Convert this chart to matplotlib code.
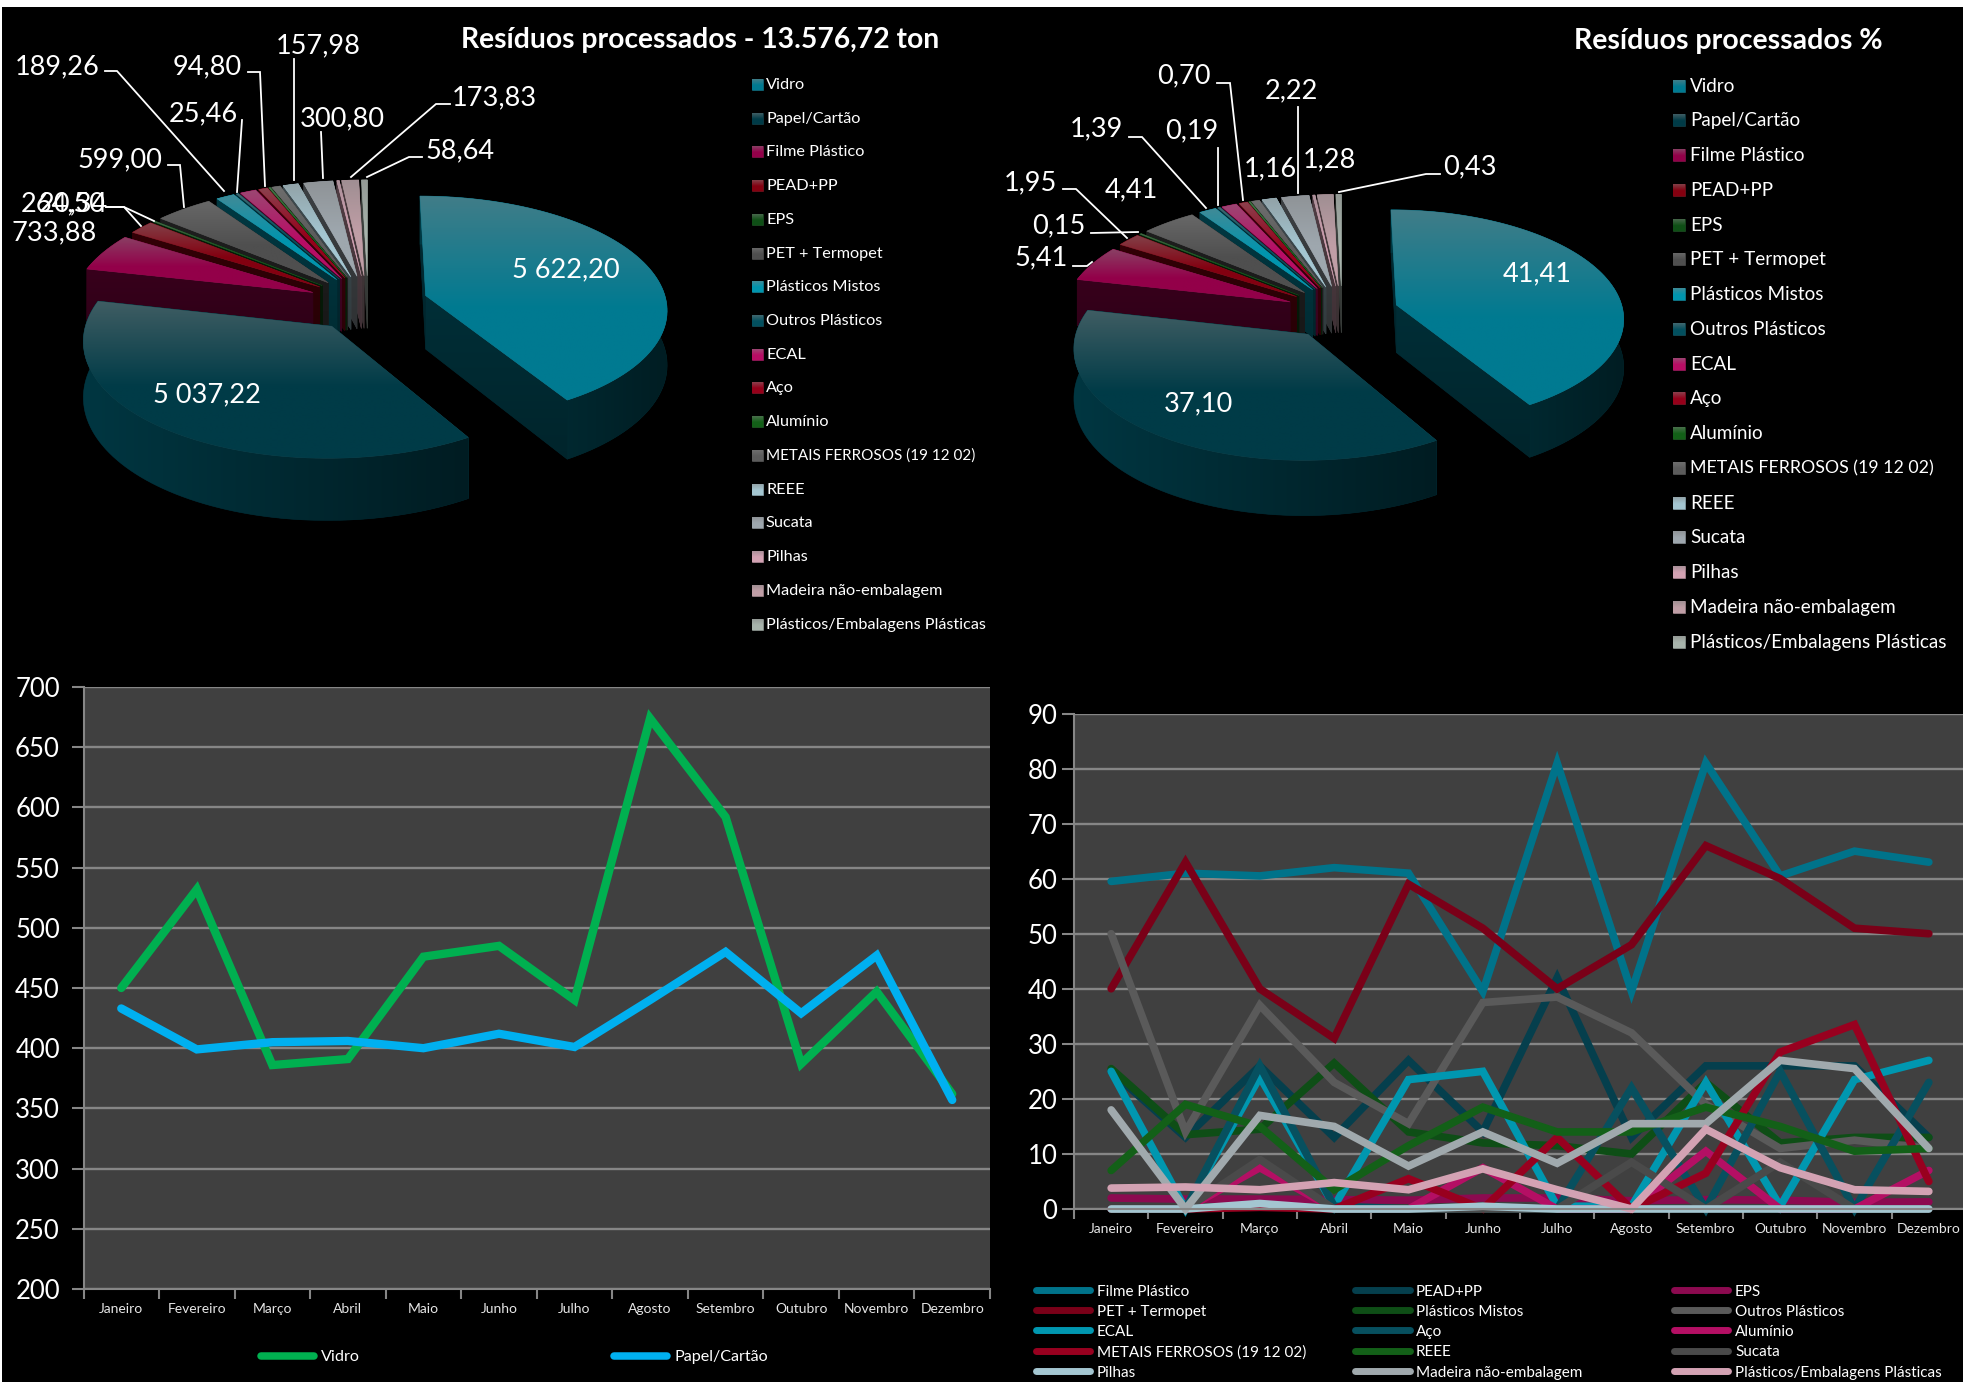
import numpy as np
import matplotlib
matplotlib.use("Agg")
import matplotlib.pyplot as plt
from matplotlib.patches import Polygon, Rectangle
from matplotlib.colors import to_rgb

plt.rcParams['font.family'] = ['Lato', 'DejaVu Sans']

W, H = 1963, 1382

# ---------- data ----------
months = ["Janeiro", "Fevereiro", "Março", "Abril", "Maio", "Junho", "Julho",
          "Agosto", "Setembro", "Outubro", "Novembro", "Dezembro"]

categories = ["Vidro", "Papel/Cartão", "Filme Plástico", "PEAD+PP", "EPS", "PET + Termopet",
              "Plásticos Mistos", "Outros Plásticos", "ECAL", "Aço", "Alumínio",
              "METAIS FERROSOS (19 12 02)", "REEE", "Sucata", "Pilhas",
              "Madeira não-embalagem", "Plásticos/Embalagens Plásticas"]
pie_colors = ["#007a91", "#003b47", "#930049", "#840010", "#0f4f16", "#4f4f4f", "#0095ae",
              "#03505f", "#b80d65", "#96001a", "#136018", "#5c5c5c", "#a4c6d1", "#9ea7ae",
              "#d3a2b3", "#c09ea6", "#a8b4ac"]
side_gain = [1.0, 2.0, 1.0, 1.0, 1.0, 1.0, 1.0, 1.5, 1.0, 1.0, 1.0, 1.0, 1.0, 1.0, 1.0, 1.0, 1.0]

tons = [5622.20, 5037.22, 733.88, 264.50, 20.34, 599.00, 189.26, 25.46, 165.0, 94.80,
        18.0, 90.0, 157.98, 300.80, 25.0, 173.83, 58.64]
percent = [41.41, 37.10, 5.41, 1.95, 0.15, 4.41, 1.39, 0.19, 1.22, 0.70,
           0.13, 0.66, 1.16, 2.22, 0.18, 1.28, 0.43]

vidro = [450, 532, 386, 391, 476, 485, 440, 674, 592, 387, 447, 362]
papel = [433, 399, 405, 406, 400, 412, 401, 440, 480, 429, 477, 357]

filme = [59.5, 61, 60.5, 62, 61, 39.5, 81, 39.5, 81, 60.5, 65, 63]
pead = [25, 13, 26, 13, 27, 14, 42, 13, 26, 26, 26, 13]
eps = [2, 1.8, 1.8, 1.7, 1.6, 2, 2, 1.5, 1.7, 1.6, 1.2, 1.3]
pet = [40, 63, 40, 31, 59, 51, 40, 48, 66, 60, 51, 50]
mistos = [25.5, 13.5, 14.5, 26.5, 14, 12, 11.5, 10, 23, 12, 13, 13]
outros = [50, 14, 37, 23, 15.5, 37.5, 38.5, 32, 19, 11, 12.5, 11]
ecal = [25, 0, 24, 0.5, 23.5, 25, 0.5, 0.5, 23, 0.5, 23.5, 27]
aco = [0, 0, 26, 0.5, 0, 0, 0, 22, 0, 25, 0, 23]
aluminio = [0, 0, 7.5, 0, 0, 7.5, 0, 0, 10.5, 0, 0, 7]
metais = [0, 0, 0.3, 0, 5.5, 0, 13, 0, 6.5, 28.5, 33.5, 5]
reee = [7, 19, 15, 3.5, 11.5, 18.5, 14, 14, 18.5, 15, 10.5, 11]
sucata = [0, 0, 9, 0, 0, 0, 0, 8.5, 0, 8.5, 0, 0]
pilhas = [0, 0, 1, 0, 0, 0.5, 0, 0, 0, 0, 0, 0]
madeira = [18, 0, 17, 15, 7.8, 14, 8.3, 15.5, 15.5, 27, 25.5, 11]
plasticos = [3.8, 4, 3.5, 4.8, 3.5, 7.3, 3.5, 0, 14.5, 7.5, 3.5, 3.2]

line_names = categories[2:]
line_values = [filme, pead, eps, pet, mistos, outros, ecal, aco, aluminio, metais,
               reee, sucata, pilhas, madeira, plasticos]
line_colors = ["#00738a", "#053f4d", "#8c0a50", "#7a0018", "#0e4e16", "#5a5a5a", "#0097b0",
               "#07505f", "#b40f64", "#98001f", "#136018", "#4a4a4a", "#a4c6d1", "#a0a9ad",
               "#d3a2b3"]

# labels: text, centre, leader polyline
labels_1 = [("5 622,20", 566, 270, []), ("5 037,22", 207, 395, []),
    ("189,26", 57, 67, [(105, 71), (117, 71), (224, 191)]),
    ("94,80", 207, 67, [(248, 72), (260, 72), (265, 186)]),
    ("157,98", 318, 46, [(294, 59), (294, 180)]),
    ("25,46", 203, 114, [(242, 120), (237, 192)]),
    ("300,80", 342, 119, [(321, 132), (323, 178)]),
    ("173,83", 494, 98, [(450, 104), (436, 104), (351, 177)]),
    ("58,64", 460, 151, [(422, 157), (409, 157), (367, 177)]),
    ("599,00", 120, 160, [(168, 165), (180, 165), (184, 207)]),
    ("264,50", 63, 204, [(106, 207), (124, 207), (141, 226)]),
    ("20,34", 73, 204, [(106, 207), (124, 207), (154, 221)]),
    ("733,88", 54, 233, [])]
labels_2 = [("41,41", 1537, 274, []), ("37,10", 1198, 404, []),
    ("0,70", 1184, 76, [(1217, 83), (1230, 83), (1243, 200)]),
    ("2,22", 1291, 91, [(1298, 107), (1298, 193)]),
    ("1,39", 1096, 129, [(1129, 137), (1142, 137), (1206, 208)]),
    ("0,19", 1192, 131, [(1218, 148), (1218, 205)]),
    ("1,16", 1270, 169, []), ("1,28", 1329, 160, []),
    ("0,43", 1470, 167, [(1440, 174), (1426, 174), (1339, 192)]),
    ("1,95", 1030, 183, [(1063, 189), (1076, 189), (1127, 238)]),
    ("4,41", 1131, 190, []),
    ("0,15", 1059, 226, [(1091, 233), (1138, 232)]),
    ("5,41", 1041, 258, [(1073, 266), (1087, 266), (1092, 262)])]

# ---------- figure ----------
fig = plt.figure(figsize=(W / 100, H / 100), dpi=100, facecolor="black")
ov = fig.add_axes([0, 0, 1, 1], zorder=5)
ov.set_xlim(0, W)
ov.set_ylim(H, 0)
ov.axis("off")
ov.patch.set_alpha(0)
ov.set_autoscale_on(False)
ov.add_patch(Rectangle((0, 0), W, 7, fc="white", ec="none"))
ov.add_patch(Rectangle((0, 0), 1.5, H, fc="white", ec="none"))

zc = [10]


def next_z():
    zc[0] += 1
    return zc[0]


def shaded(pts, base, mode, gain=1.0):
    """Polygon filled with a gradient derived from one base colour."""
    pts = np.asarray(pts)
    z = next_z()
    base = np.array(to_rgb(base))
    x0, x1 = pts[:, 0].min(), pts[:, 0].max()
    y0, y1 = pts[:, 1].min(), pts[:, 1].max()
    n = 64
    t = np.linspace(0, 1, n)
    if mode == "top":
        w = 0.5 * np.clip(1 - t / 0.55, 0, 1)
        rows = base[None, :] * (1 - w[:, None]) + 0.5 * w[:, None]
        img = rows[:, None, :]
    elif mode == "rim":
        f = (0.46 - 0.22 * t) * gain
        img = (base[None, :] * f[:, None])[None, :, :]
    else:
        f = (0.38 - 0.08 * t) * gain
        img = (base[None, :] * f[:, None])[:, None, :]
    img = np.clip(img, 0, 1)
    mean = img.reshape(-1, 3).mean(axis=0)
    poly = Polygon(pts, closed=True, fc=mean, ec=mean, lw=0.4, zorder=z)
    ov.add_patch(poly)
    im = ov.imshow(img, extent=(x0, x1, y1, y0), aspect="auto", zorder=z,
                   interpolation="bilinear")
    im.set_clip_path(poly)


def pie3d(values, cx, cy, rx, ry, depth, persp=0.11, explode=0.25):
    vals = np.array(values, float)
    edges = np.concatenate([[0], np.cumsum(vals)]) / vals.sum() * 2 * np.pi
    slices = []
    for i in range(len(vals)):
        a0, a1 = edges[i], edges[i + 1]
        mid = (a0 + a1) / 2
        slices.append((np.cos(mid), i, a0, a1, mid))

    def proj(gx, gy, lower=False):
        p = 1 + persp * gy
        return (cx + rx * gx / p, cy - ry * gy / p + (depth / p if lower else 0))

    for cm, i, a0, a1, mid in sorted(slices, key=lambda s: -s[0]):
        ox, oy = explode * np.sin(mid), explode * np.cos(mid)
        n = max(3, int((a1 - a0) / 0.03))
        ang = np.linspace(a0, a1, n)
        gx = ox + np.sin(ang)
        gy = oy + np.cos(ang)
        top = [proj(ox, oy)] + [proj(a, b) for a, b in zip(gx, gy)]
        rim = [proj(a, b) for a, b in zip(gx, gy)] + \
              [proj(a, b, True) for a, b in zip(gx[::-1], gy[::-1])]
        cut0 = [proj(ox, oy), proj(gx[0], gy[0]), proj(gx[0], gy[0], True), proj(ox, oy, True)]
        cut1 = [proj(ox, oy), proj(gx[-1], gy[-1]), proj(gx[-1], gy[-1], True), proj(ox, oy, True)]
        faces = [(oy + np.cos(a0) / 2, cut0, "cut"), (oy + np.cos(a1) / 2, cut1, "cut"),
                 (oy + np.cos(mid) * 0.9, rim, "rim")]
        for _, pts, mode in sorted(faces, key=lambda f: -f[0]):
            shaded(pts, pie_colors[i], mode, side_gain[i])
        shaded(top, pie_colors[i], "top")


def draw_labels(items, size):
    for txt, x, y, leader in items:
        ov.text(x, y, txt, color="white", fontsize=size, ha="center", va="center", zorder=2000)
        if leader:
            ov.plot([p[0] for p in leader], [p[1] for p in leader], color="white",
                    lw=1.3, zorder=1999, solid_joinstyle="miter")


def pie_legend(xm, xt, y0, dy, msize, fsize):
    for i, name in enumerate(categories):
        y = y0 + i * dy
        shaded([(xm, y - msize / 2), (xm + msize, y - msize / 2),
                (xm + msize, y + msize / 2), (xm, y + msize / 2)], pie_colors[i], "top")
        fs = fsize * 0.94 if name.isupper() and len(name) > 10 else fsize
        ov.text(xt, y + 0.5, name, color="white", fontsize=fs, ha="left", va="center", zorder=2000)


pie3d(tons, 368, 303, 241, 112, 54)
draw_labels(labels_1, 19.5)
pie_legend(752, 766, 84.5, 33.72, 11, 11.7)
ov.text(700, 40, "Resíduos processados - 13.576,72 ton", color="white", fontsize=20.3,
        fontweight="bold", ha="center", va="center", zorder=2000)

pie3d(percent, 1342, 312, 227, 107, 48)
draw_labels(labels_2, 19.5)
pie_legend(1673, 1690, 85.6, 34.76, 12, 13.6)
ov.text(1728, 41, "Resíduos processados %", color="white", fontsize=20.5,
        fontweight="bold", ha="center", va="center", zorder=2000)


# ---------- line charts ----------
def line_axes(left, top, right, bottom, ymin, ymax, step, ypad, xpad):
    ax = fig.add_axes([left / W, 1 - bottom / H, (right - left) / W, (bottom - top) / H],
                      zorder=3)
    ax.set_facecolor("#404040")
    ax.set_xlim(0, 12)
    ax.set_ylim(ymin, ymax)
    ax.set_yticks(np.arange(ymin, ymax + 1, step))
    ax.set_xticks(np.arange(0, 13))
    ax.set_xticklabels([])
    ax.set_xticks(np.arange(0.5, 12), labels=months, minor=True)
    ax.tick_params(axis="x", which="minor", length=0, labelsize=10, labelcolor="#e6e6e6", pad=xpad)
    ax.tick_params(axis="x", which="major", length=7, width=1.5, color="#868686")
    ax.tick_params(axis="y", length=9, width=1.5, color="#868686", labelsize=18.5,
                   labelcolor="white", pad=ypad)
    ax.grid(axis="y", color="#868686", lw=1.7)
    ax.set_axisbelow(True)
    for s in ("top", "right"):
        ax.spines[s].set_visible(False)
    for s in ("left", "bottom"):
        ax.spines[s].set_color("#868686")
        ax.spines[s].set_linewidth(1.5)
    return ax


xs = np.arange(12) + 0.5

axl = line_axes(83.5, 687, 990, 1289, 200, 700, 50, 8, 10)
axl.plot(xs, vidro, color="#00b050", lw=6, solid_joinstyle="miter", solid_capstyle="round",
         label="Vidro")
axl.plot(xs, papel, color="#00b0f0", lw=6, solid_joinstyle="miter", solid_capstyle="round",
         label="Papel/Cartão")

axr = line_axes(1074, 713.5, 1966, 1209, 0, 90, 10, 3, 10)
for vals, col, name in zip(line_values, line_colors, line_names):
    axr.plot(xs, vals, color=col, lw=5.5, solid_joinstyle="miter", solid_capstyle="round",
             clip_on=False, label=name)

# legends
for x0, x1, xt, name, col in [(261, 314, 321, "Vidro", "#00b050"),
                              (614, 667, 675, "Papel/Cartão", "#00b0f0")]:
    ov.plot([x0, x1], [1356, 1356], color=col, lw=5.4, solid_capstyle="round", zorder=2000)
    ov.text(xt, 1357, name, color="white", fontsize=11.6, va="center", ha="left", zorder=2000)

col_x = [(1036, 1090, 1097), (1355, 1410, 1416), (1674, 1728, 1735)]
row_y = [1290, 1310, 1330.4, 1350.5, 1370.7]
for k, (name, col) in enumerate(zip(line_names, line_colors)):
    r, c = k // 3, k % 3
    x0, x1, xt = col_x[c]
    ov.plot([x0, x1], [row_y[r]] * 2, color=col, lw=5, solid_capstyle="round", zorder=2000)
    ov.text(xt, row_y[r] + 2, name, color="white", fontsize=11, va="center", ha="left", zorder=2000)

fig.savefig("out.png", dpi=100, facecolor="black")
